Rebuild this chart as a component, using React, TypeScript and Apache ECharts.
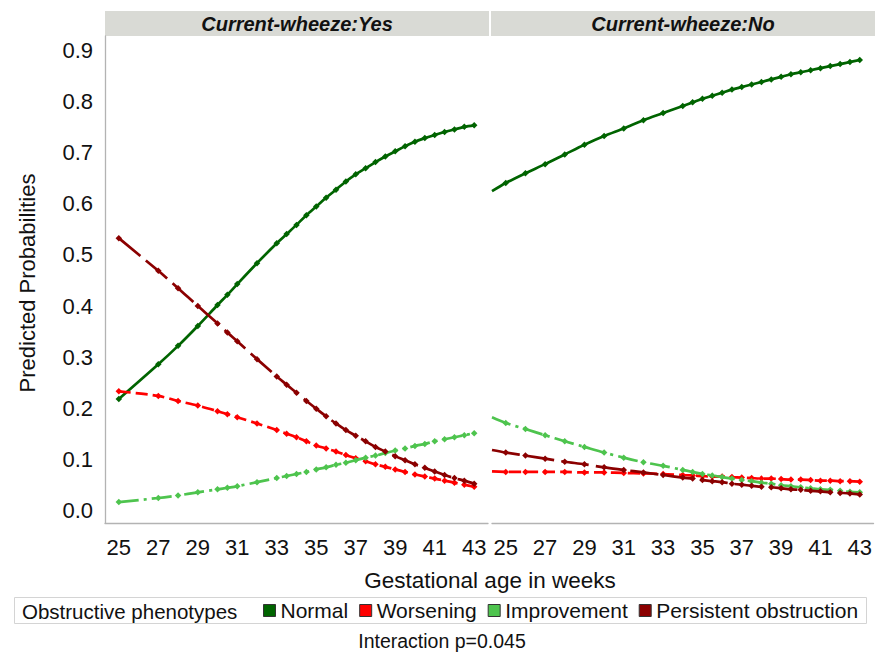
import React, { useEffect, useRef } from "react";
import * as echarts from "echarts";

const FONT = '"Liberation Sans", Arial, Helvetica, sans-serif';

const SERIES_NAMES = ["Normal", "Worsening", "Improvement", "Persistent obstruction"];
const PANEL_TITLES = ["Current-wheeze:Yes", "Current-wheeze:No"];
const X_TICKS = [25, 27, 29, 31, 33, 35, 37, 39, 41, 43];
const Y_TICKS = [0, 0.1, 0.2, 0.3, 0.4, 0.5, 0.6, 0.7, 0.8, 0.9];

// Left panel: Current-wheeze: Yes
const LEFT_WEEKS = [25, 27, 28, 29, 30, 30.5, 31, 32, 33, 33.5, 34, 34.5, 35, 35.5, 36, 36.5, 37, 37.5, 38, 38.5, 39, 39.5, 40, 40.5, 41, 41.5, 42, 42.5, 43];
const LEFT_NORMAL = [0.218, 0.286, 0.322, 0.361, 0.402, 0.422, 0.443, 0.484, 0.523, 0.541, 0.559, 0.578, 0.595, 0.612, 0.628, 0.644, 0.658, 0.670, 0.682, 0.693, 0.703, 0.713, 0.722, 0.729, 0.735, 0.741, 0.746, 0.751, 0.754];
const LEFT_WORSENING = [0.233, 0.224, 0.214, 0.205, 0.194, 0.188, 0.182, 0.170, 0.157, 0.150, 0.143, 0.135, 0.127, 0.121, 0.115, 0.108, 0.102, 0.096, 0.090, 0.085, 0.080, 0.075, 0.070, 0.066, 0.062, 0.058, 0.054, 0.050, 0.046];
const LEFT_IMPROVEMENT = [0.016, 0.024, 0.029, 0.035, 0.041, 0.044, 0.047, 0.055, 0.063, 0.067, 0.071, 0.075, 0.080, 0.084, 0.089, 0.093, 0.098, 0.103, 0.107, 0.112, 0.117, 0.121, 0.126, 0.130, 0.135, 0.139, 0.143, 0.147, 0.151];
const LEFT_PERSISTENT = [0.533, 0.469, 0.435, 0.400, 0.366, 0.348, 0.331, 0.296, 0.262, 0.246, 0.230, 0.214, 0.199, 0.184, 0.170, 0.157, 0.146, 0.135, 0.124, 0.115, 0.106, 0.098, 0.090, 0.083, 0.076, 0.069, 0.063, 0.058, 0.052];

// Right panel: Current-wheeze: No
const RIGHT_WEEKS = [24.3, 25, 26, 27, 28, 29, 30, 31, 32, 33, 34, 34.5, 35, 35.5, 36, 36.5, 37, 37.5, 38, 38.5, 39, 39.5, 40, 40.5, 41, 41.5, 42, 42.5, 43];
const RIGHT_NORMAL = [0.625, 0.641, 0.660, 0.678, 0.697, 0.716, 0.733, 0.748, 0.764, 0.778, 0.792, 0.799, 0.806, 0.812, 0.818, 0.824, 0.829, 0.834, 0.839, 0.844, 0.849, 0.854, 0.858, 0.862, 0.866, 0.870, 0.874, 0.878, 0.882];
const RIGHT_WORSENING = [0.076, 0.075, 0.075, 0.075, 0.075, 0.074, 0.074, 0.073, 0.072, 0.071, 0.069, 0.068, 0.067, 0.066, 0.066, 0.065, 0.064, 0.063, 0.062, 0.062, 0.061, 0.060, 0.060, 0.059, 0.058, 0.058, 0.057, 0.057, 0.056];
const RIGHT_IMPROVEMENT = [0.182, 0.171, 0.159, 0.147, 0.135, 0.124, 0.113, 0.103, 0.094, 0.087, 0.079, 0.075, 0.071, 0.068, 0.065, 0.062, 0.059, 0.057, 0.054, 0.052, 0.049, 0.047, 0.045, 0.043, 0.041, 0.040, 0.038, 0.036, 0.035];
const RIGHT_PERSISTENT = [0.118, 0.113, 0.107, 0.101, 0.095, 0.090, 0.084, 0.079, 0.074, 0.069, 0.064, 0.062, 0.059, 0.057, 0.055, 0.052, 0.050, 0.048, 0.046, 0.045, 0.043, 0.041, 0.040, 0.038, 0.037, 0.035, 0.034, 0.033, 0.031];

const COLORS = ["#006400", "#ff0000", "#4ec44e", "#8b0000"];
const DASHES: any[] = ["solid", [12, 5], [20, 5, 3, 5], [28, 7]];

const X_MIN = 24.3;
const X_MAX = 43.7;
const Y_MIN = -0.025;
const Y_MAX = 0.929;

function buildSeries(weeks: number[], values: number[], idx: number, panel: number) {
  return {
    type: "line",
    name: SERIES_NAMES[idx],
    xAxisIndex: panel,
    yAxisIndex: panel,
    data: weeks.map((w, i) =>
      w < 25 ? { value: [w, values[i]], symbol: "none" } : { value: [w, values[i]] }
    ),
    smooth: 0.3,
    symbol: "diamond",
    symbolSize: 6.5,
    showAllSymbol: true,
    color: COLORS[idx],
    itemStyle: { color: COLORS[idx] },
    lineStyle: { color: COLORS[idx], width: 2.7, type: DASHES[idx] },
    emphasis: { disabled: true },
    z: 2 + idx,
  };
}

export default function App() {
  const ref = useRef<HTMLDivElement>(null);

  useEffect(() => {
    if (!ref.current) return;
    const chart = echarts.init(ref.current, undefined, { renderer: "svg" });

    const axisLineStyle = { color: "#b3b3b3", width: 1.3 };

    const xAxisBase = (gridIndex: number) => ({
      type: "value",
      gridIndex,
      min: X_MIN,
      max: X_MAX,
      splitLine: { show: false },
      axisTick: { show: false },
      axisLine: { show: true, onZero: false, lineStyle: axisLineStyle },
      axisLabel: {
        customValues: X_TICKS,
        fontSize: 22,
        fontFamily: FONT,
        color: "#111",
        margin: 13,
      },
    });

    const option: any = {
      animation: false,
      backgroundColor: "#ffffff",
      textStyle: { fontFamily: FONT },
      grid: [
        { left: 105, top: 36, width: 383, height: 487, containLabel: false },
        { left: 492, top: 36, width: 383, height: 487, containLabel: false },
      ],
      xAxis: [xAxisBase(0), xAxisBase(1)],
      yAxis: [
        {
          type: "value",
          gridIndex: 0,
          min: Y_MIN,
          max: Y_MAX,
          splitLine: { show: false },
          axisTick: { show: false },
          axisLine: { show: true, lineStyle: axisLineStyle },
          axisLabel: {
            customValues: Y_TICKS,
            formatter: (v: number) => v.toFixed(1),
            fontSize: 22,
            fontFamily: FONT,
            color: "#111",
            margin: 12,
          },
        },
        {
          type: "value",
          gridIndex: 1,
          min: Y_MIN,
          max: Y_MAX,
          splitLine: { show: false },
          axisTick: { show: false },
          axisLine: { show: false },
          axisLabel: { show: false },
        },
      ],
      legend: {
        data: SERIES_NAMES,
        left: 263,
        top: 600,
        padding: 0,
        icon: "rect",
        itemWidth: 12,
        itemHeight: 12,
        itemGap: 11,
        selectedMode: false,
        itemStyle: { borderColor: "#333333", borderWidth: 1 },
        textStyle: { fontSize: 21, fontFamily: FONT, color: "#111" },
      },
      graphic: [
        { type: "rect", shape: { x: 105, y: 11, width: 384, height: 25 }, style: { fill: "#d9dad5" } },
        { type: "rect", shape: { x: 491, y: 11, width: 384, height: 25 }, style: { fill: "#d9dad5" } },
        {
          type: "text", x: 297, y: 24,
          style: { text: PANEL_TITLES[0], fontSize: 20, fontWeight: "bold", fontStyle: "italic", fontFamily: FONT, fill: "#111", align: "center", verticalAlign: "middle" },
        },
        {
          type: "text", x: 683, y: 24,
          style: { text: PANEL_TITLES[1], fontSize: 20, fontWeight: "bold", fontStyle: "italic", fontFamily: FONT, fill: "#111", align: "center", verticalAlign: "middle" },
        },
        {
          type: "text", x: 27, y: 283, rotation: Math.PI / 2,
          style: { text: "Predicted Probabilities", fontSize: 22, fontFamily: FONT, fill: "#111", align: "center", verticalAlign: "middle" },
        },
        {
          type: "text", x: 490, y: 580,
          style: { text: "Gestational age in weeks", fontSize: 22.5, fontFamily: FONT, fill: "#111", align: "center", verticalAlign: "middle" },
        },
        {
          type: "rect", shape: { x: 14.5, y: 597.5, width: 852, height: 26 },
          style: { fill: "none", stroke: "#d4d4d4", lineWidth: 1 },
        },
        {
          type: "text", x: 22, y: 611,
          style: { text: "Obstructive phenotypes", fontSize: 20.5, fontFamily: FONT, fill: "#111", align: "left", verticalAlign: "middle" },
        },
        {
          type: "text", x: 442, y: 641,
          style: { text: "Interaction p=0.045", fontSize: 19.5, fontFamily: FONT, fill: "#111", align: "center", verticalAlign: "middle" },
        },
      ],
      series: [
        buildSeries(LEFT_WEEKS, LEFT_NORMAL, 0, 0),
        buildSeries(LEFT_WEEKS, LEFT_WORSENING, 1, 0),
        buildSeries(LEFT_WEEKS, LEFT_IMPROVEMENT, 2, 0),
        buildSeries(LEFT_WEEKS, LEFT_PERSISTENT, 3, 0),
        buildSeries(RIGHT_WEEKS, RIGHT_NORMAL, 0, 1),
        buildSeries(RIGHT_WEEKS, RIGHT_WORSENING, 1, 1),
        buildSeries(RIGHT_WEEKS, RIGHT_IMPROVEMENT, 2, 1),
        buildSeries(RIGHT_WEEKS, RIGHT_PERSISTENT, 3, 1),
      ],
    };

    chart.setOption(option);
    return () => chart.dispose();
  }, []);

  return (
    <div
      ref={ref}
      style={{ position: "fixed", left: 0, top: 0, width: 875, height: 652, background: "#fff" }}
    />
  );
}
